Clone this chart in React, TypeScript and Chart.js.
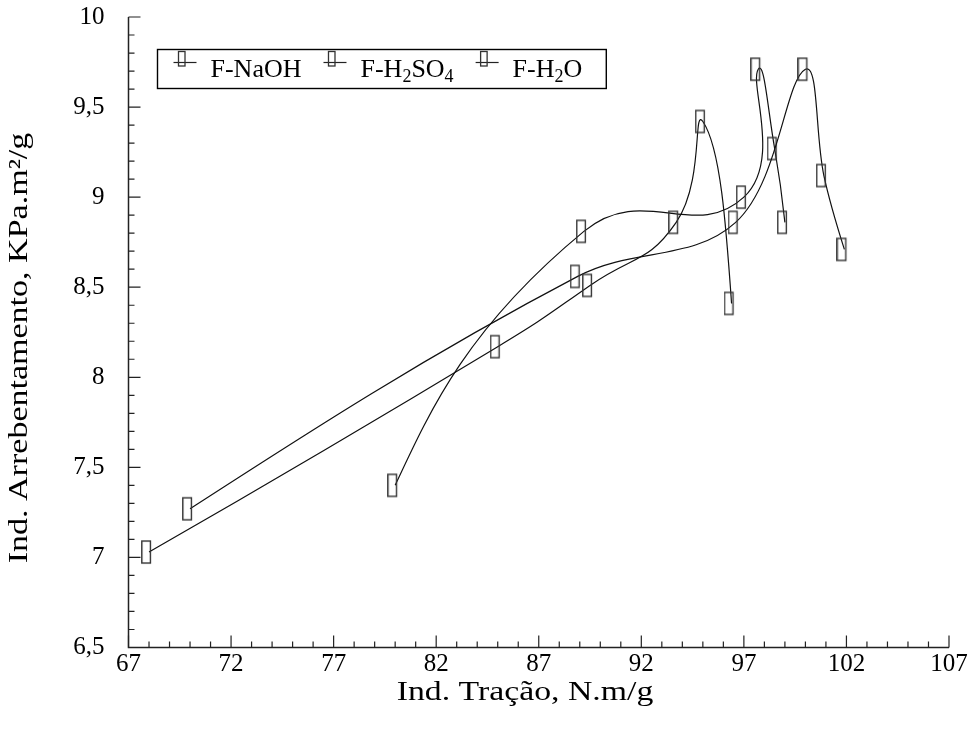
import React, { useEffect, useRef } from 'react';
import { Chart, registerables } from 'chart.js';

Chart.register(...registerables);

// Tensile index (x) vs burst index (y) for each fibre treatment
const SERIES_LABELS = ['F-NaOH', 'F-H2SO4', 'F-H2O'];
const naohX = [68, 85, 89.5, 93.7, 95, 96.4];
const naohY = [7.03, 8.17, 8.51, 8.86, 9.42, 8.41];
const h2so4X = [70, 88.9, 96.6, 100, 100.9, 101.9];
const h2so4Y = [7.27, 8.56, 8.86, 9.71, 9.12, 8.71];
const h2oX = [80, 89.2, 97, 97.7, 98.5, 99];
const h2oY = [7.4, 8.81, 9.0, 9.71, 9.27, 8.86];
const TENSIONS = [0.5, 0.38, 0.5];

const X_MIN = 67;
const X_MAX = 107;
const X_STEP = 5;
const Y_MIN = 6.5;
const Y_MAX = 10;
const Y_STEP = 0.5;

const X_TITLE = 'Ind. Tração, N.m/g';
const Y_TITLE = 'Ind. Arrebentamento, KPa.m²/g';

const FONT = "'Liberation Serif', 'Times New Roman', serif";
const W = 971;
const H = 742;

function makeMarker(): HTMLCanvasElement {
  // tall open bar, drawn a little left of the data point
  const c = document.createElement('canvas');
  c.width = 16;
  c.height = 26;
  const g = c.getContext('2d')!;
  g.strokeStyle = '#333';
  g.lineWidth = 1.4;
  g.strokeRect(0.8, 2, 8.6, 22);
  return c;
}

function splitSub(label: string) {
  // digits are rendered as subscripts (chemical formulae)
  const parts: { t: string; sub: boolean }[] = [];
  for (const ch of label) {
    const sub = /[0-9]/.test(ch);
    const last = parts[parts.length - 1];
    if (last && last.sub === sub) last.t += ch;
    else parts.push({ t: ch, sub });
  }
  return parts;
}

// Cardinal spline control points with natural (zero-curvature) end conditions
const splinePlugin = {
  id: 'naturalEnds',
  beforeDatasetDraw(chart: any, args: any) {
    const meta = chart.getDatasetMeta(args.index);
    const line = meta.dataset;
    const pts = meta.data;
    if (!line || pts.length < 3) return;
    const t = chart.data.datasets[args.index].tension;
    line.updateControlPoints(chart.chartArea, 'x');
    const n = pts.length;
    for (let i = 1; i < n - 1; i++) {
      const p0 = pts[i - 1];
      const p1 = pts[i];
      const p2 = pts[i + 1];
      const d01 = Math.hypot(p1.x - p0.x, p1.y - p0.y);
      const d12 = Math.hypot(p2.x - p1.x, p2.y - p1.y);
      const s = d01 + d12 || 1;
      const fa = (t * d01) / s;
      const fb = (t * d12) / s;
      p1.cp1x = p1.x - fa * (p2.x - p0.x);
      p1.cp1y = p1.y - fa * (p2.y - p0.y);
      p1.cp2x = p1.x + fb * (p2.x - p0.x);
      p1.cp2y = p1.y + fb * (p2.y - p0.y);
    }
    const a = pts[0];
    const b = pts[1];
    a.cp2x = (a.x + b.cp1x) / 2;
    a.cp2y = (a.y + b.cp1y) / 2;
    a.cp1x = a.x;
    a.cp1y = a.y;
    const z = pts[n - 1];
    const y = pts[n - 2];
    z.cp1x = (z.x + y.cp2x) / 2;
    z.cp1y = (z.y + y.cp2y) / 2;
    z.cp2x = z.x;
    z.cp2y = z.y;
    line._path = undefined;
  },
};

const decorPlugin = {
  id: 'decor',
  afterDraw(chart: any) {
    const { ctx, chartArea: a, scales } = chart;
    const xs = scales.x;
    const ys = scales.y;
    ctx.save();

    // axis lines
    ctx.strokeStyle = '#222';
    ctx.lineWidth = 1.5;
    ctx.beginPath();
    ctx.moveTo(a.left, a.top);
    ctx.lineTo(a.left, a.bottom);
    ctx.lineTo(a.right, a.bottom);
    ctx.stroke();

    // inward tick marks
    ctx.lineWidth = 1.2;
    ctx.beginPath();
    for (let v = X_MIN; v <= X_MAX; v++) {
      const px = xs.getPixelForValue(v);
      const len = (v - X_MIN) % X_STEP === 0 ? 12 : 6;
      ctx.moveTo(px, a.bottom);
      ctx.lineTo(px, a.bottom - len);
    }
    const nMinor = Math.round((Y_MAX - Y_MIN) / 0.1);
    for (let i = 0; i <= nMinor; i++) {
      const py = ys.getPixelForValue(Y_MIN + i * 0.1);
      const len = i % 5 === 0 ? 12 : 6;
      ctx.moveTo(a.left, py);
      ctx.lineTo(a.left + len, py);
    }
    ctx.stroke();

    // axis titles
    ctx.fillStyle = '#000';
    ctx.font = `27px ${FONT}`;
    ctx.textAlign = 'center';
    ctx.textBaseline = 'alphabetic';
    ctx.save();
    ctx.translate(525, 700);
    ctx.scale(1.25, 1);
    ctx.fillText(X_TITLE, 0, 0);
    ctx.restore();
    ctx.save();
    ctx.translate(27, 348);
    ctx.rotate(-Math.PI / 2);
    ctx.scale(1.26, 1);
    ctx.fillText(Y_TITLE, 0, 0);
    ctx.restore();

    // legend
    const boxL = 157.5;
    const boxT = 49.5;
    const boxB = 88.5;
    const baseY = 77;
    const big = `26px ${FONT}`;
    const small = `18px ${FONT}`;
    ctx.textAlign = 'left';
    let x = 173.5;
    chart.data.datasets.forEach((ds: any) => {
      ctx.strokeStyle = '#222';
      ctx.lineWidth = 1.2;
      ctx.beginPath();
      ctx.moveTo(x, 62.5);
      ctx.lineTo(x + 23, 62.5);
      ctx.stroke();
      ctx.strokeStyle = '#333';
      ctx.lineWidth = 1.3;
      ctx.strokeRect(x + 5, 51.5, 6.5, 14.5);
      let tx = x + 37;
      for (const p of splitSub(ds.label)) {
        ctx.font = p.sub ? small : big;
        ctx.fillText(p.t, tx, p.sub ? baseY + 5 : baseY);
        tx += ctx.measureText(p.t).width;
      }
      x = tx + 22;
    });
    const boxR = x + 2;
    ctx.strokeStyle = '#000';
    ctx.lineWidth = 1.4;
    ctx.strokeRect(boxL, boxT, boxR - boxL, boxB - boxT);

    ctx.restore();
  },
};

function toPoints(xs: number[], ys: number[]) {
  return xs.map((x, i) => ({ x, y: ys[i] }));
}

function noPad(s: any) {
  s.paddingLeft = 0;
  s.paddingRight = 0;
  s.paddingTop = 0;
  s.paddingBottom = 0;
}

export default function App() {
  const ref = useRef<HTMLCanvasElement | null>(null);

  useEffect(() => {
    document.body.style.margin = '0';
    const marker = makeMarker();
    const mk = (label: string, xs: number[], ys: number[], tension: number) => ({
      label,
      data: toPoints(xs, ys),
      showLine: true,
      borderColor: '#111',
      borderWidth: 1.2,
      backgroundColor: 'transparent',
      pointStyle: marker,
      pointRadius: 4,
      pointHoverRadius: 4,
      tension,
      fill: false,
    });
    const chart = new Chart(ref.current!, {
      type: 'scatter',
      data: {
        datasets: [
          mk(SERIES_LABELS[0], naohX, naohY, TENSIONS[0]),
          mk(SERIES_LABELS[1], h2so4X, h2so4Y, TENSIONS[1]),
          mk(SERIES_LABELS[2], h2oX, h2oY, TENSIONS[2]),
        ],
      },
      options: {
        responsive: false,
        animation: false,
        devicePixelRatio: 1,
        layout: { padding: { left: 0, top: 17, right: 22, bottom: 0 } },
        plugins: {
          legend: { display: false },
          tooltip: { enabled: false },
        },
        scales: {
          x: {
            type: 'linear',
            min: X_MIN,
            max: X_MAX,
            grid: { display: false, drawTicks: false },
            border: { display: false },
            ticks: {
              stepSize: X_STEP,
              padding: 2,
              color: '#000',
              font: { family: FONT, size: 25 },
              maxRotation: 0,
            },
            afterFit: (s: any) => {
              s.height = 94.5;
              noPad(s);
            },
          },
          y: {
            type: 'linear',
            min: Y_MIN,
            max: Y_MAX,
            grid: { display: false, drawTicks: false },
            border: { display: false },
            ticks: {
              stepSize: Y_STEP,
              padding: 24,
              color: '#000',
              font: { family: FONT, size: 25 },
              callback: (v: any) => String(v).replace('.', ','),
            },
            afterFit: (s: any) => {
              s.width = 128.5;
              noPad(s);
            },
          },
        },
      },
      plugins: [splinePlugin, decorPlugin],
    });
    return () => chart.destroy();
  }, []);

  return (
    <div style={{ width: W, height: H, background: '#fff' }}>
      <canvas ref={ref} width={W} height={H} />
    </div>
  );
}
